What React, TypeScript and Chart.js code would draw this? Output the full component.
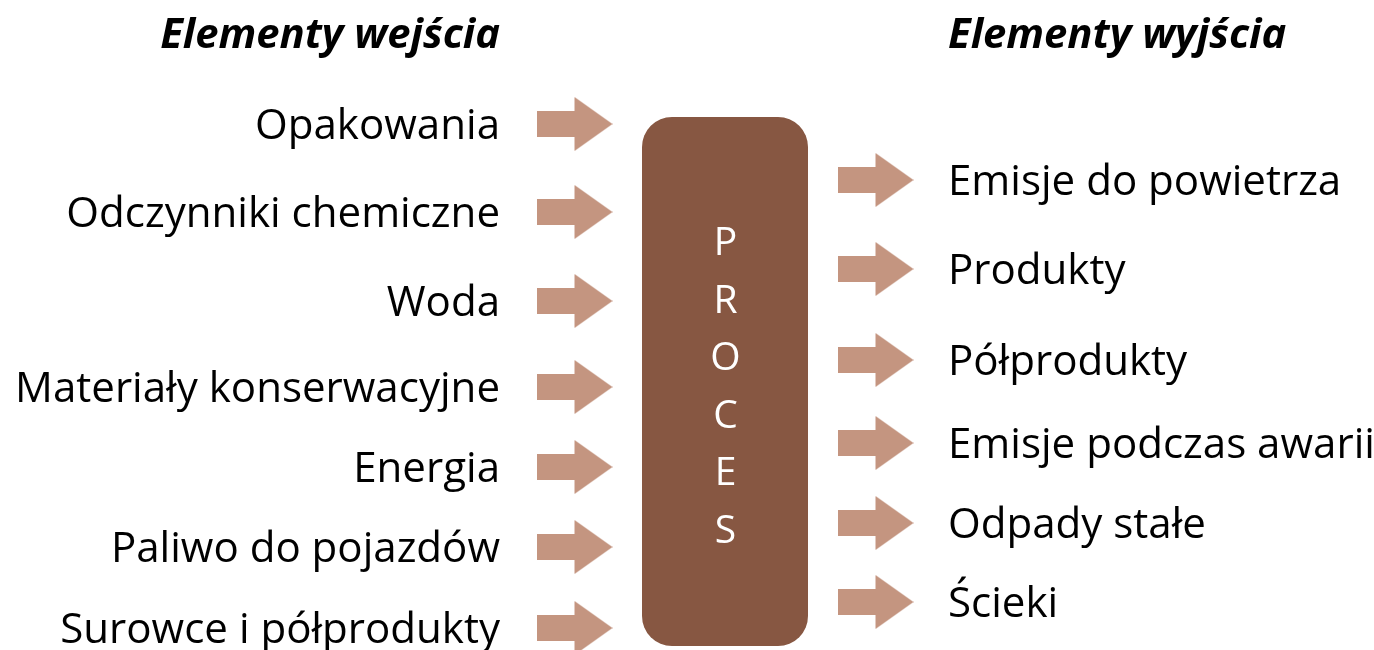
import React, { useEffect, useRef } from "react";
import { Chart, registerables } from "chart.js";

Chart.register(...registerables);

// ---- data ----
const inputLabels = [
  "Opakowania",
  "Odczynniki chemiczne",
  "Woda",
  "Materiały konserwacyjne",
  "Energia",
  "Paliwo do pojazdów",
  "Surowce i półprodukty",
];
const inputRows = [124, 212, 301, 387, 467, 547, 628];

const outputLabels = [
  "Emisje do powietrza",
  "Produkty",
  "Półprodukty",
  "Emisje podczas awarii",
  "Odpady stałe",
  "Ścieki",
];
const outputRows = [180, 269, 360, 443, 523, 602];

const processLetters = ["P", "R", "O", "C", "E", "S"];
const letterRows = [240, 298, 355, 413, 470, 528];

const titleLeft = "Elementy wejścia";
const titleRight = "Elementy wyjścia";

// ---- layout / style ----
const W = 1374;
const H = 650;
const ARROW_COLOR = "#C49580";
const BOX_COLOR = "#875742";
const FONT = "'Open Sans', Lato, sans-serif";

function makeArrow(): HTMLCanvasElement {
  const c = document.createElement("canvas");
  c.width = 76;
  c.height = 54;
  const g = c.getContext("2d")!;
  g.fillStyle = ARROW_COLOR;
  g.beginPath();
  g.moveTo(0, 14);
  g.lineTo(38, 14);
  g.lineTo(38, 0);
  g.lineTo(76, 27);
  g.lineTo(38, 54);
  g.lineTo(38, 40);
  g.lineTo(0, 40);
  g.closePath();
  g.fill();
  return c;
}

function fitSize(ctx: CanvasRenderingContext2D, prefix: string, text: string, target: number) {
  ctx.font = `${prefix} 100px ${FONT}`;
  const w = ctx.measureText(text).width;
  return (100 * target) / w;
}

export default function App() {
  const ref = useRef<HTMLCanvasElement | null>(null);

  useEffect(() => {
    if (!ref.current) return;
    const arrow = makeArrow();

    const diagramPlugin = {
      id: "diagram",
      beforeDatasetsDraw(chart: any) {
        const { ctx, scales } = chart;
        const xs = scales.x;
        const ys = scales.y;
        const x0 = xs.getPixelForValue(642);
        const x1 = xs.getPixelForValue(808);
        const y0 = ys.getPixelForValue(117);
        const y1 = ys.getPixelForValue(646);
        ctx.save();
        ctx.fillStyle = BOX_COLOR;
        ctx.beginPath();
        (ctx as any).roundRect(x0, y0, x1 - x0, y1 - y0, 30);
        ctx.fill();
        ctx.fillStyle = "#ffffff";
        ctx.font = `400 39px ${FONT}`;
        ctx.textAlign = "center";
        ctx.textBaseline = "alphabetic";
        processLetters.forEach((l, i) => {
          ctx.fillText(l, xs.getPixelForValue(725.5), ys.getPixelForValue(letterRows[i]) + 14.5);
        });
        ctx.restore();
      },
      afterDatasetsDraw(chart: any) {
        const { ctx, scales } = chart;
        const xs = scales.x;
        const ys = scales.y;
        ctx.save();
        ctx.fillStyle = "#000000";
        ctx.textBaseline = "alphabetic";
        const size = fitSize(ctx, "", "Materiały konserwacyjne", 485);
        ctx.font = `${size}px ${FONT}`;
        ctx.textAlign = "right";
        inputLabels.forEach((l, i) => {
          ctx.fillText(l, xs.getPixelForValue(500), ys.getPixelForValue(inputRows[i]) + 15);
        });
        ctx.textAlign = "left";
        outputLabels.forEach((l, i) => {
          ctx.fillText(l, xs.getPixelForValue(948), ys.getPixelForValue(outputRows[i]) + 15);
        });
        const tsize = fitSize(ctx, "italic bold", titleLeft, 340);
        ctx.font = `italic bold ${tsize}px ${FONT}`;
        ctx.textAlign = "right";
        ctx.fillText(titleLeft, xs.getPixelForValue(500), ys.getPixelForValue(48));
        ctx.textAlign = "left";
        ctx.fillText(titleRight, xs.getPixelForValue(948), ys.getPixelForValue(48));
        ctx.restore();
      },
    };

    const chart = new Chart(ref.current, {
      type: "scatter",
      data: {
        datasets: [
          {
            label: "inputs",
            data: inputRows.map((y) => ({ x: 574.5, y })),
            pointStyle: arrow as any,
            pointRadius: 1,
          },
          {
            label: "outputs",
            data: outputRows.map((y) => ({ x: 875.5, y })),
            pointStyle: arrow as any,
            pointRadius: 1,
          },
        ],
      },
      options: {
        animation: false,
        responsive: true,
        maintainAspectRatio: false,
        layout: { padding: 0, autoPadding: false },
        plugins: { legend: { display: false }, tooltip: { enabled: false } },
        scales: {
          x: { type: "linear", min: 0, max: W, display: false },
          y: { type: "linear", min: 0, max: H, reverse: true, display: false },
        },
        events: [],
      },
      plugins: [diagramPlugin],
    });
    return () => chart.destroy();
  }, []);

  return (
    <div style={{ position: "fixed", left: 0, top: 0, width: W, height: H, background: "#fff" }}>
      <canvas ref={ref} />
    </div>
  );
}
